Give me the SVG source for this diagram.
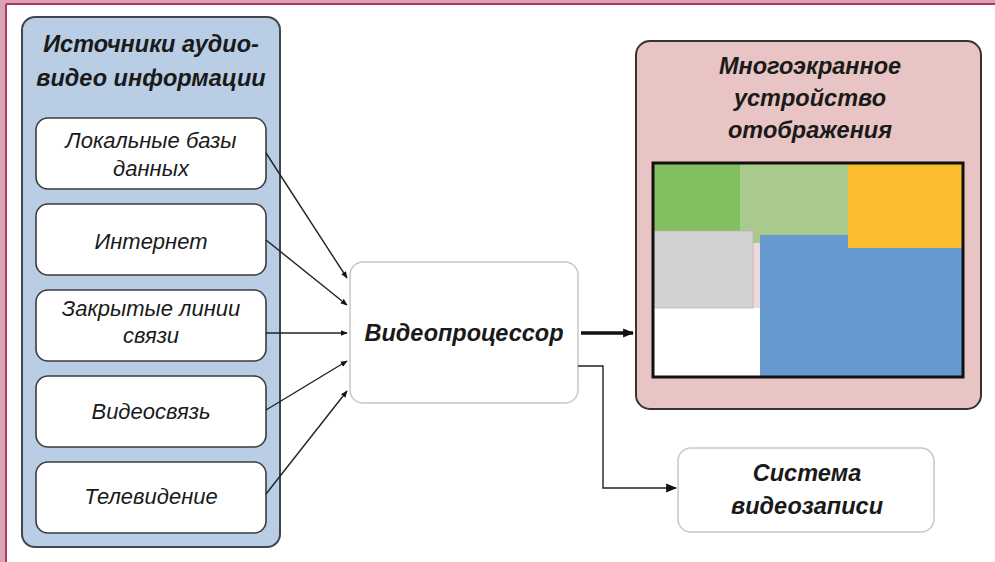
<svg xmlns="http://www.w3.org/2000/svg" width="995" height="562" viewBox="0 0 995 562">
<defs>
<style>
.t{font-family:"Liberation Sans",Arial,sans-serif;font-style:italic;fill:#1a1a1a;text-anchor:middle}
.b{font-weight:bold;font-size:23.5px}
.r{font-size:22px}
.sub{fill:#ffffff;stroke:#3c3c3c;stroke-width:1.6}
.conn{fill:none;stroke:#222;stroke-width:1.4}
</style>
<marker id="ah" viewBox="0 0 10 10" refX="9" refY="5" markerWidth="7" markerHeight="7" orient="auto" markerUnits="userSpaceOnUse">
<path d="M0,1 L10,5 L0,9 z" fill="#111"/>
</marker>
<marker id="ah2" viewBox="0 0 10 10" refX="9" refY="5" markerWidth="11" markerHeight="11" orient="auto" markerUnits="userSpaceOnUse">
<path d="M0,1 L10,5 L0,9 z" fill="#111"/>
</marker>
</defs>
<rect x="0" y="0" width="995" height="562" fill="#ffffff"/>
<g id="frame">
<rect x="0" y="0" width="995" height="4" fill="#d6a3b7"/>
<rect x="0" y="0" width="6" height="562" fill="#d6a3b7"/>
<line x1="6" y1="4" x2="995" y2="4" stroke="#b2365f" stroke-width="2"/>
<line x1="6" y1="4" x2="6" y2="562" stroke="#b2365f" stroke-width="2"/>
</g>
<g id="sources">
<rect x="22" y="17" width="258" height="530" rx="13" fill="#b9cde4" stroke="#3e4650" stroke-width="2"/>
<text class="t b" x="151" y="52">Источники аудио-</text>
<text class="t b" x="151" y="86">видео информации</text>
</g>
<g id="src1">
<rect class="sub" x="36" y="118" width="230" height="71" rx="12"/>
<text class="t r" x="151" y="148">Локальные базы</text>
<text class="t r" x="151" y="176">данных</text>
</g>
<g id="src2">
<rect class="sub" x="36" y="204" width="230" height="71" rx="12"/>
<text class="t r" x="151" y="249">Интернет</text>
</g>
<g id="src3">
<rect class="sub" x="36" y="290" width="230" height="71" rx="12"/>
<text class="t r" x="151" y="316">Закрытые линии</text>
<text class="t r" x="151" y="343">связи</text>
</g>
<g id="src4">
<rect class="sub" x="36" y="376" width="230" height="71" rx="12"/>
<text class="t r" x="151" y="419">Видеосвязь</text>
</g>
<g id="src5">
<rect class="sub" x="36" y="462" width="230" height="71" rx="12"/>
<text class="t r" x="151" y="504">Телевидение</text>
</g>
<g id="processor">
<rect x="350" y="262" width="228" height="141" rx="13" fill="#ffffff" stroke="#c8c8c8" stroke-width="1.5"/>
<text class="t b" x="464" y="341">Видеопроцессор</text>
</g>
<g id="display">
<rect x="636" y="41" width="345" height="368" rx="14" fill="#e8c4c4" stroke="#3a3232" stroke-width="2"/>
<text class="t b" x="810" y="74">Многоэкранное</text>
<text class="t b" x="810" y="106">устройство</text>
<text class="t b" x="810" y="138">отображения</text>
<rect x="653" y="163" width="310" height="214" fill="#ffffff"/>
<rect x="740" y="163" width="108" height="80" fill="#a9ca8c"/>
<rect x="653" y="163" width="87" height="68" fill="#82c05f"/>
<rect x="753" y="243" width="7" height="65" fill="#efd8d8"/>
<rect x="653" y="231" width="100" height="77" fill="#d2d2d2" stroke="#b8b8b8" stroke-width="0.8"/>
<rect x="760" y="235" width="203" height="142" fill="#6699cf"/>
<rect x="848" y="163" width="115" height="85" fill="#fcbc30"/>
<rect x="653" y="163" width="310" height="214" fill="none" stroke="#111" stroke-width="3"/>
</g>
<g id="recorder">
<rect x="678" y="448" width="256" height="84" rx="13" fill="#ffffff" stroke="#c8c8c8" stroke-width="1.5"/>
<text class="t b" x="807" y="481">Система</text>
<text class="t b" x="807" y="514">видеозаписи</text>
</g>
<g id="connectors">
<line class="conn" x1="266" y1="153" x2="347" y2="278" marker-end="url(#ah)"/>
<line class="conn" x1="266" y1="240" x2="347" y2="305" marker-end="url(#ah)"/>
<line class="conn" x1="266" y1="333" x2="347" y2="333" marker-end="url(#ah)"/>
<line class="conn" x1="266" y1="410" x2="347" y2="361" marker-end="url(#ah)"/>
<line class="conn" x1="266" y1="494" x2="347" y2="391" marker-end="url(#ah)"/>
<line x1="581" y1="333" x2="633" y2="333" stroke="#111" stroke-width="3.5" marker-end="url(#ah2)"/>
<polyline class="conn" points="578,366 603,366 603,488 676,488" stroke="#444" stroke-width="1.6" marker-end="url(#ah2)"/>
</g>
</svg>
